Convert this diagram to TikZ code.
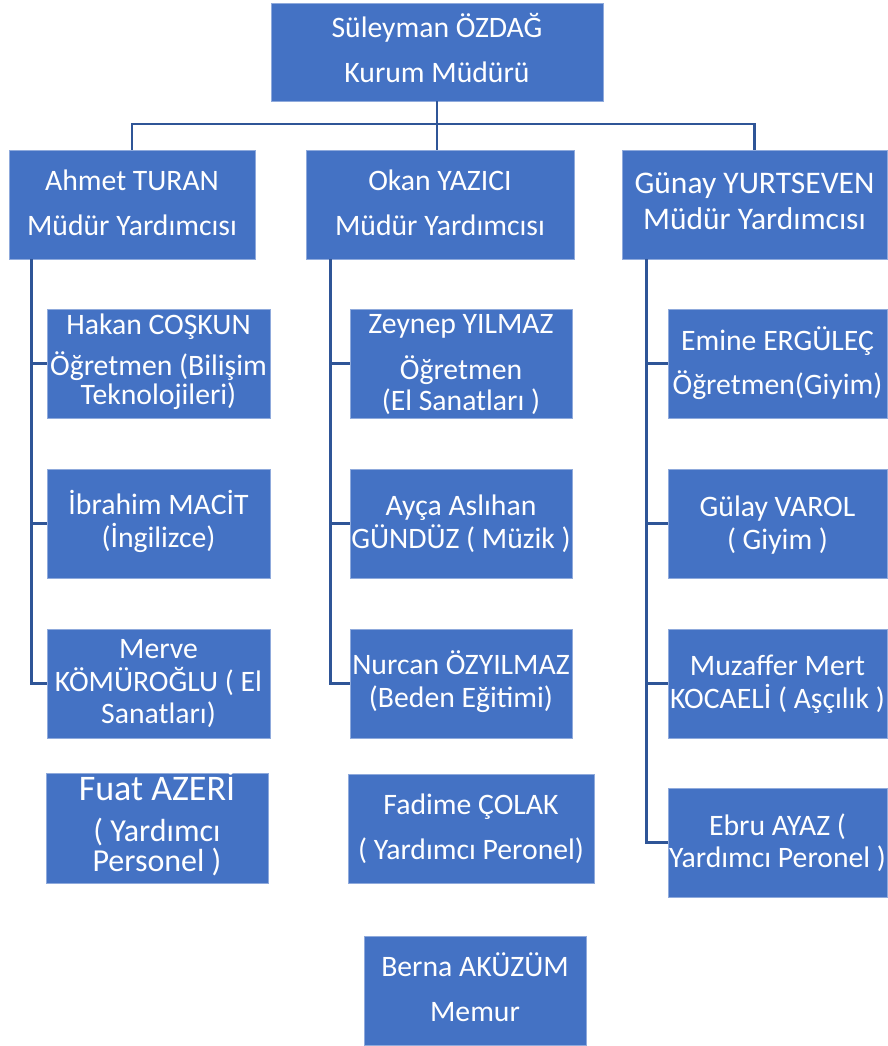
\documentclass[tikz,border=0pt]{standalone}
\usepackage{fontspec}
\setmainfont{Carlito}
\definecolor{boxfill}{HTML}{4472C4}
\definecolor{boxedge}{HTML}{8FAADC}
\definecolor{linecol}{HTML}{2F5597}
\newcommand\tl[3]{\rule{0pt}{#1pt}#3\rule[-#2pt]{0pt}{#2pt}}
\newcommand\fs[1]{\fontsize{#1}{0}\selectfont\lineskiplimit=-1000pt\relax}
\begin{document}
\begin{tikzpicture}[x=1pt,y=-1pt,
  box/.style={draw=boxedge,line width=0.8pt,fill=boxfill,inner sep=0pt},
  txt/.style={text=white,align=center,inner sep=0pt,font=\fs{29.7}},
  conn/.style={draw=linecol,line width=2.8pt}]
\useasboundingbox (0,0) rectangle (888,1046);
% level 1
\node[box,minimum width=332pt,minimum height=98pt,label={[txt]center:{\tl{41.7}{25}{Süleyman ÖZDAĞ\\[44.7pt]Kurum Müdürü}}}] (top) at (437,52) {};
% level 2
\node[box,minimum width=246pt,minimum height=109pt,label={[txt]center:{\tl{41.7}{25}{Ahmet TURAN\\[44.3pt]Müdür Yardımcısı}}}] (ahmet) at (132,204.5) {};
\node[box,minimum width=268pt,minimum height=109pt,label={[txt]center:{\tl{41.7}{25}{Okan YAZICI\\[44.3pt]Müdür Yardımcısı}}}] (okan) at (440,204.5) {};
\node[box,minimum width=265pt,minimum height=109pt,label={[txt,font=\fs{31.5}]center:{\tl{38.3}{25}{Günay YURTSEVEN\\[35.7pt]Müdür Yardımcısı}}}] (gunay) at (754.5,204.5) {};
% left column
\node[box,minimum width=223pt,minimum height=109pt,label={[txt]center:{\tl{36}{25}{Hakan COŞKUN\\[41pt]Öğretmen (Bilişim\\[29pt]Teknolojileri)}}}] (hakan) at (158.5,363.5) {};
\node[box,minimum width=223pt,minimum height=109pt,label={[txt]center:{\tl{39.8}{25}{İbrahim MACİT\\[32.6pt](İngilizce)}}}] (ibrahim) at (158.5,523.5) {};
\node[box,minimum width=223pt,minimum height=109pt,label={[txt]center:{\tl{40.5}{25}{Merve\\[32.5pt]KÖMÜROĞLU ( El\\[32.5pt]Sanatları)}}}] (merve) at (158.5,683.5) {};
\node[box,minimum width=222pt,minimum height=110pt,label={[txt,font=\fs{32}]center:{\tl{40.7}{25}{{\fs{36}Fuat AZERİ}\\[41.7pt]( Yardımcı\\[30pt]Personel )}}}] (fuat) at (157,828) {};
% middle column
\node[box,minimum width=222pt,minimum height=109pt,label={[txt]center:{\tl{41.3}{25}{Zeynep YILMAZ\\[45.7pt]Öğretmen\\[31pt](El Sanatları )}}}] (zeynep) at (461,363.5) {};
\node[box,minimum width=222pt,minimum height=109pt,label={[txt]center:{\tl{42.2}{25}{Ayça Aslıhan\\[32.6pt]GÜNDÜZ ( Müzik )}}}] (ayca) at (461,523.5) {};
\node[box,minimum width=222pt,minimum height=109pt,label={[txt]center:{\tl{40}{25}{Nurcan ÖZYILMAZ\\[32.6pt](Beden Eğitimi)}}}] (nurcan) at (461,683.5) {};
\node[box,minimum width=246pt,minimum height=109pt,label={[txt]center:{\tl{42.4}{25}{Fadime ÇOLAK\\[44.8pt]( Yardımcı Peronel)}}}] (fadime) at (471,828.5) {};
% right column
\node[box,minimum width=219pt,minimum height=109pt,label={[txt]center:{\tl{42.8}{25}{Emine ERGÜLEÇ\\[44pt]Öğretmen(Giyim)}}}] (emine) at (777.5,363.5) {};
\node[box,minimum width=219pt,minimum height=109pt,label={[txt]center:{\tl{43.8}{25}{Gülay VAROL\\[32.6pt]( Giyim )}}}] (gulay) at (777.5,523.5) {};
\node[box,minimum width=219pt,minimum height=109pt,label={[txt]center:{\tl{41.5}{25}{Muzaffer Mert\\[32.5pt]KOCAELİ ( Aşçılık )}}}] (muzaffer) at (777.5,683.5) {};
\node[box,minimum width=219pt,minimum height=109pt,label={[txt]center:{\tl{42.7}{25}{Ebru AYAZ (\\[32.7pt]Yardımcı Peronel )}}}] (ebru) at (777.5,842.5) {};
% bottom
\node[box,minimum width=222pt,minimum height=109pt,label={[txt]center:{\tl{41.7}{25}{Berna AKÜZÜM\\[45.7pt]Memur}}}] (berna) at (475,990.5) {};
% connectors
\coordinate (bus) at (437,124);
\draw[conn] (ahmet.north) |- (bus) -| (gunay.north);
\draw[conn] (top.south) -- (top.south |- okan.north);
\coordinate (la) at ([xshift=23pt]ahmet.south west);
\draw[conn] (la) |- (merve.west);
\draw[conn] (la |- hakan.west) -- (hakan.west);
\draw[conn] (la |- ibrahim.west) -- (ibrahim.west);
\coordinate (ma) at ([xshift=25pt]okan.south west);
\draw[conn] (ma) |- (nurcan.west);
\draw[conn] (ma |- zeynep.west) -- (zeynep.west);
\draw[conn] (ma |- ayca.west) -- (ayca.west);
\coordinate (ra) at ([xshift=25pt]gunay.south west);
\draw[conn] (ra) |- (ebru.west);
\draw[conn] (ra |- emine.west) -- (emine.west);
\draw[conn] (ra |- gulay.west) -- (gulay.west);
\draw[conn] (ra |- muzaffer.west) -- (muzaffer.west);
\end{tikzpicture}
\end{document}
